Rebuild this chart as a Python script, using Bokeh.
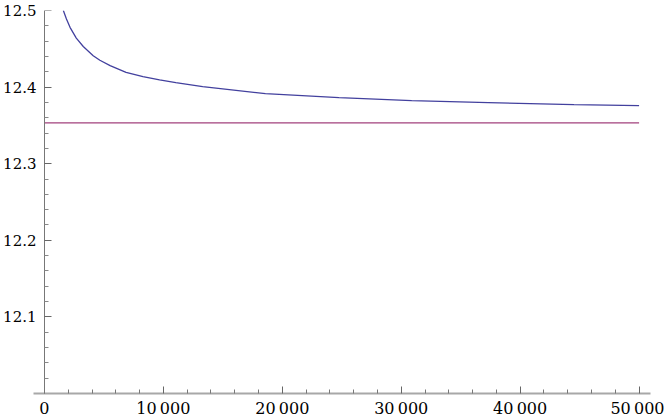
from bokeh.plotting import figure
from bokeh.models import Range1d, FixedTicker, LinearAxis
from bokeh.embed import file_html
from bokeh.resources import INLINE

# Data
curve_x = [1590, 1850, 2151, 2678, 3264, 4100, 4661, 5523, 6862, 8285, 9682,
           11046, 13305, 18577, 24770, 30879, 37322, 44519, 50000]
curve_y = [12.500, 12.489, 12.478, 12.464, 12.453, 12.441, 12.435, 12.428,
           12.4192, 12.4136, 12.4093, 12.4058, 12.4006, 12.3915, 12.3863,
           12.3823, 12.3797, 12.3771, 12.3757]
limit_x = [0, 50000]
limit_y = [12.3533, 12.3533]

x_ticks = [0, 10000, 20000, 30000, 40000, 50000]
x_tick_labels = ["0", "10\u2009000", "20\u2009000", "30\u2009000", "40\u2009000", "50\u2009000"]
x_minor = [v for v in range(2000, 50000, 2000) if v % 10000 != 0]
y_ticks = [12.1, 12.2, 12.3, 12.4, 12.5]
y_tick_labels = ["12.1", "12.2", "12.3", "12.4", "12.5"]
y_minor = [round(12.0 + 0.02 * i, 2) for i in range(1, 25) if i % 5 != 0]

p = figure(width=664, height=420, output_backend="svg", toolbar_location=None,
           x_range=Range1d(-920, 50960), y_range=Range1d(12.0, 12.5),
           min_border_left=30, min_border_right=14, min_border_top=10,
           min_border_bottom=27)
p.outline_line_color = None
p.xgrid.visible = False
p.ygrid.visible = False
p.background_fill_color = "white"
p.border_fill_color = "white"

p.line(limit_x, limit_y, line_color="#a2417c", line_width=1.3)
p.line(curve_x, curve_y, line_color="#42409e", line_width=1.3)

font = "DejaVu Serif"

# x axis
xa = p.xaxis[0]
xa.ticker = FixedTicker(ticks=x_ticks, minor_ticks=x_minor)
xa.major_label_overrides = {t: l for t, l in zip(x_ticks, x_tick_labels)}
xa.axis_line_color = "#a8a8a8"
xa.axis_line_width = 2
xa.major_tick_in = 7
xa.major_tick_out = 0
xa.minor_tick_in = 4
xa.minor_tick_out = 0
xa.major_tick_line_color = "#666666"
xa.minor_tick_line_color = "#777777"
xa.major_label_text_font = font
xa.major_label_text_font_size = "16px"
xa.major_label_text_color = "black"
xa.major_label_standoff = 5

# left-panel axis: labels only
ya = p.yaxis[0]
ya.ticker = FixedTicker(ticks=y_ticks, minor_ticks=[])
ya.major_label_overrides = {t: l for t, l in zip(y_ticks, y_tick_labels)}
ya.axis_line_color = None
ya.major_tick_line_color = None
ya.minor_tick_line_color = None
ya.major_tick_in = 0
ya.major_tick_out = 0
ya.minor_tick_in = 0
ya.minor_tick_out = 0
ya.major_label_text_font = font
ya.major_label_text_font_size = "15px"
ya.major_label_text_color = "black"
ya.major_label_standoff = -3

# y axis line and ticks, crossing at x = 0
ya2 = LinearAxis(fixed_location=0,
                 ticker=FixedTicker(ticks=y_ticks, minor_ticks=y_minor),
                 major_label_text_font_size="0px",
                 axis_line_color="#777777", axis_line_width=1,
                 major_tick_in=7, major_tick_out=0,
                 minor_tick_in=4, minor_tick_out=0,
                 major_tick_line_color="#666666",
                 minor_tick_line_color="#888888")
ya2.major_label_text_color = None
p.add_layout(ya2, "left")

open("out.html", "w").write(file_html(p, INLINE))
